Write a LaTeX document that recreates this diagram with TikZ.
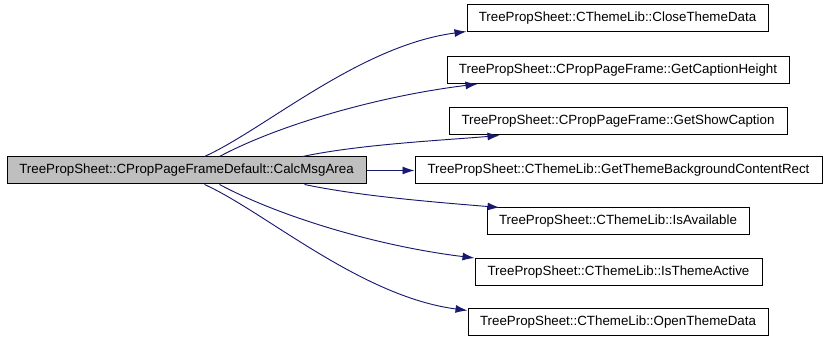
\documentclass[tikz,border=0pt]{standalone}
\usepackage{fontspec}
\setmainfont{Liberation Sans}
\usetikzlibrary{arrows.meta,calc}
\definecolor{edgeblue}{HTML}{191970}
\definecolor{nodegray}{HTML}{BFBFBF}
\begin{document}
\begin{tikzpicture}[x=0.75pt,y=-0.75pt,
  fn/.style={draw=black,line width=0.75pt,inner sep=0pt,minimum height=20.25pt,
    font=\fontsize{10}{12}\selectfont,anchor=center},
  cur/.style={fn,fill=nodegray},
  call/.style={draw=edgeblue,line width=0.7pt,-{Latex[length=9pt,width=6pt]}}]
\useasboundingbox (0,0) rectangle (826,341);
% caller
\node[cur,minimum width=269.25pt] (main) at (186.5,170.5) {TreePropSheet::CPropPageFrameDefault::CalcMsgArea};
% callees
\node[fn,minimum width=225.75pt] (n1) at (617.5,18.5) {TreePropSheet::CThemeLib::CloseThemeData};
\node[fn,minimum width=256.5pt] (n2) at (618,70) {TreePropSheet::CPropPageFrame::GetCaptionHeight};
\node[fn,minimum width=253.5pt] (n3) at (618,121.5) {TreePropSheet::CPropPageFrame::GetShowCaption};
\node[fn,minimum width=305.25pt] (n4) at (618.5,170.5) {TreePropSheet::CThemeLib::GetThemeBackgroundContentRect};
\node[fn,minimum width=196.5pt] (n5) at (618,221.5) {TreePropSheet::CThemeLib::IsAvailable};
\node[fn,minimum width=215.25pt] (n6) at (618.5,272) {TreePropSheet::CThemeLib::IsThemeActive};
\node[fn,minimum width=225pt] (n7) at (618,322.5) {TreePropSheet::CThemeLib::OpenThemeData};
% calls
\draw[call] ($(main.north west)+(198,0)$) .. controls +(60,-27) and +(-107,14) .. ($(n1.south west)+(0,-1)$);
\draw[call] ($(main.north west)+(213,0)$) .. controls +(60,-32) and +(-98,12) .. ($(n2.south west)+(31,0)$);
\draw[call] ($(main.north west)+(296,0)$) .. controls +(57,-12) and +(-60,5) .. ($(n3.south west)+(51,0)$);
\draw[call] (main.east) -- (n4.west);
\draw[call] ($(main.south west)+(298,0)$) .. controls +(57,12) and +(-60,-5) .. ($(n5.north west)+(13,0)$);
\draw[call] ($(main.south west)+(213,0)$) .. controls +(60,32) and +(-98,-12) .. (n6.north west);
\draw[call] ($(main.south west)+(198,0)$) .. controls +(60,27) and +(-107,-14) .. ($(n7.north west)+(0,2)$);
\end{tikzpicture}
\end{document}
